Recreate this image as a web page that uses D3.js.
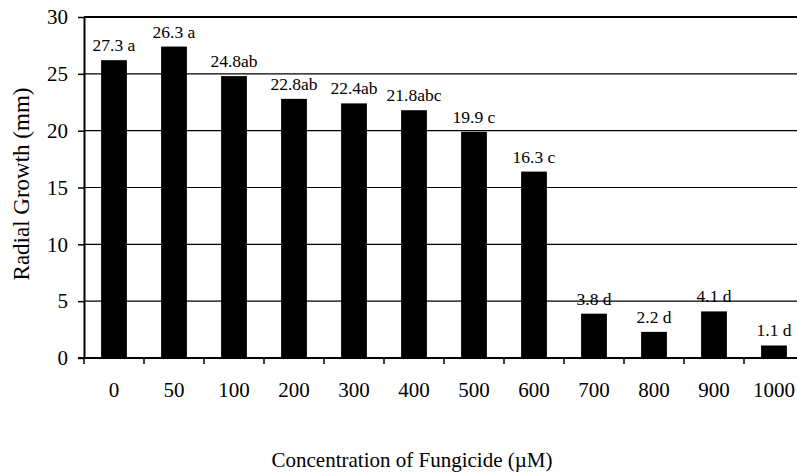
<!DOCTYPE html>
<html>
<head>
<meta charset="utf-8">
<script src="https://cdn.jsdelivr.net/npm/d3@7"></script>
<style>
  body { margin: 0; background: #fff; }
  svg { display: block; }
  text { font-family: "Liberation Serif", "Times New Roman", serif; fill: #000; }
</style>
</head>
<body>
<svg id="chart" width="797" height="473"></svg>
<script>
// data
const concentrations = ["0", "50", "100", "200", "300", "400", "500", "600", "700", "800", "900", "1000"];
const radialGrowth = [26.2, 27.4, 24.8, 22.8, 22.4, 21.8, 19.9, 16.4, 3.9, 2.3, 4.1, 1.1];
const barLabels = ["27.3 a", "26.3 a", "24.8ab", "22.8ab", "22.4ab", "21.8abc", "19.9 c", "16.3 c", "3.8 d", "2.2 d", "4.1 d", "1.1 d"];
const yTicks = [0, 5, 10, 15, 20, 25, 30];

const WIDTH = 797;
const HEIGHT = 473;
const LEFT = 84;
const TOP = 17;
const BOTTOM = 358;
const STEP = 60;
const RIGHT = LEFT + STEP * concentrations.length;

const svg = d3.select("#chart");

const x = d3.scaleBand()
  .domain(concentrations)
  .range([LEFT, RIGHT])
  .padding(0);

const y = d3.scaleLinear()
  .domain([0, 30])
  .range([BOTTOM, TOP]);

const barWidth = x.bandwidth() * 0.43;

// gridlines
svg.append("g")
  .selectAll("line")
  .data(yTicks.filter(d => d > 0))
  .join("line")
  .attr("x1", LEFT)
  .attr("x2", WIDTH)
  .attr("y1", d => y(d))
  .attr("y2", d => y(d))
  .attr("stroke", "#000")
  .attr("stroke-width", d => d === 30 ? 2 : 1.2);

// bars
svg.append("g")
  .selectAll("rect")
  .data(radialGrowth)
  .join("rect")
  .attr("x", (d, i) => x(concentrations[i]) + (x.bandwidth() - barWidth) / 2)
  .attr("y", d => y(d))
  .attr("width", barWidth)
  .attr("height", d => y(0) - y(d))
  .attr("fill", "#000");

// labels above bars
svg.append("g")
  .selectAll("text")
  .data(radialGrowth)
  .join("text")
  .attr("x", (d, i) => x(concentrations[i]) + x.bandwidth() / 2)
  .attr("y", d => y(d) - 9)
  .attr("text-anchor", "middle")
  .style("font-size", "17.5px")
  .text((d, i) => barLabels[i]);

// y axis
const yAxis = svg.append("g")
  .attr("transform", `translate(${LEFT},0)`)
  .call(d3.axisLeft(y).tickValues(yTicks).tickSize(6).tickPadding(10).tickSizeOuter(0));
yAxis.select(".domain").attr("stroke", "#000").attr("stroke-width", 2);
yAxis.selectAll(".tick line").attr("stroke", "#000").attr("stroke-width", 1.5);
yAxis.selectAll(".tick text")
  .style("font-size", "21px")
  .style("font-family", "'Liberation Serif', 'Times New Roman', serif");

// x axis
const xAxis = svg.append("g")
  .attr("transform", `translate(0,${BOTTOM})`)
  .call(d3.axisBottom(x).tickSize(0).tickPadding(24));
xAxis.select(".domain").remove();
xAxis.selectAll(".tick text")
  .style("font-size", "21px")
  .style("font-family", "'Liberation Serif', 'Times New Roman', serif");

svg.append("line")
  .attr("x1", LEFT - 6)
  .attr("x2", WIDTH)
  .attr("y1", y(0))
  .attr("y2", y(0))
  .attr("stroke", "#000")
  .attr("stroke-width", 2);

// x ticks sit between the categories
svg.append("g")
  .selectAll("line")
  .data(concentrations)
  .join("line")
  .attr("x1", d => x(d))
  .attr("x2", d => x(d))
  .attr("y1", y(0))
  .attr("y2", y(0) + 6)
  .attr("stroke", "#000")
  .attr("stroke-width", 1.5);

// axis titles
svg.append("text")
  .attr("transform", "translate(29,184) rotate(-90)")
  .attr("text-anchor", "middle")
  .style("font-size", "23px")
  .text("Radial Growth (mm)");

svg.append("text")
  .attr("x", 412)
  .attr("y", 467)
  .attr("text-anchor", "middle")
  .style("font-size", "21px")
  .text("Concentration of Fungicide (\u00b5M)");
</script>
</body>
</html>
